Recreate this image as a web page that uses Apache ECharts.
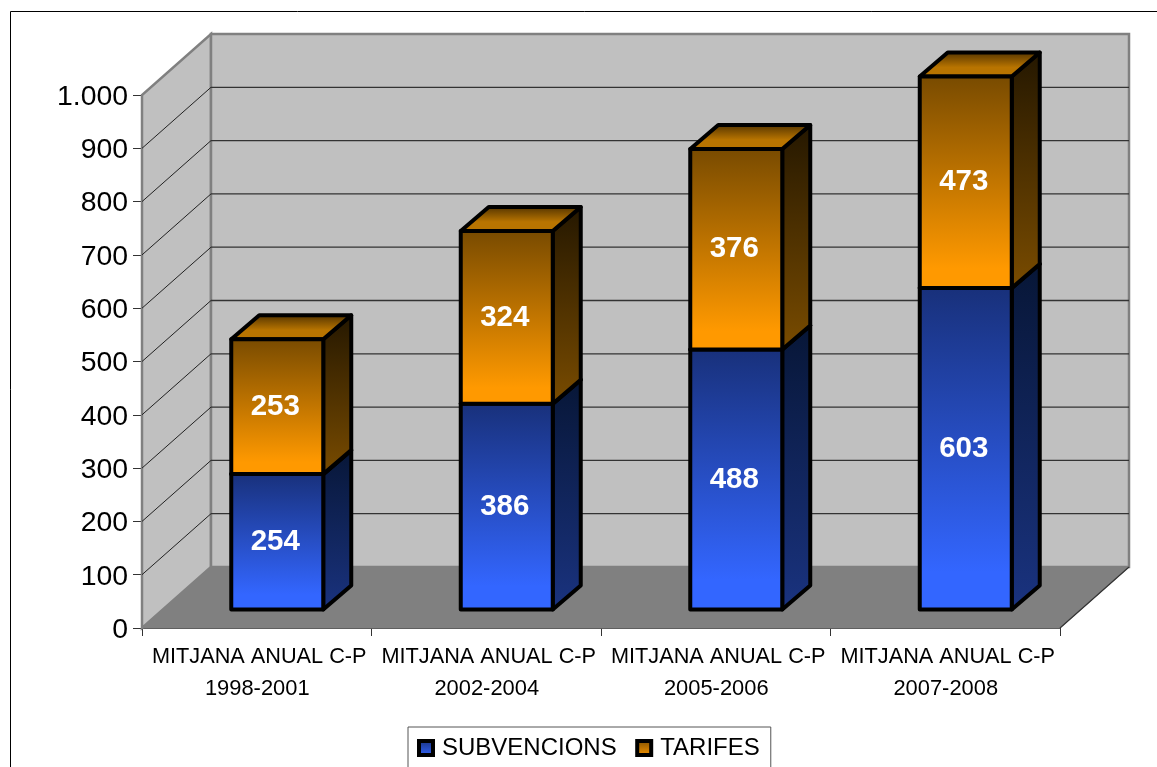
<!DOCTYPE html>
<html>
<head>
<meta charset="utf-8">
<style>html,body{margin:0;padding:0;background:#fff;overflow:hidden}#c{width:1157px;height:767px}</style>
<script src="https://cdn.jsdelivr.net/npm/echarts@6/dist/echarts.min.js"></script>
</head>
<body>
<div id="c"></div>
<script>
var categories = ['MITJANA ANUAL C-P\n1998-2001','MITJANA ANUAL C-P\n2002-2004','MITJANA ANUAL C-P\n2005-2006','MITJANA ANUAL C-P\n2007-2008'];
var subvencions = [254,386,488,603];
var tarifes = [253,324,376,473];
var yMax = 1000;
var yStep = 100;

var WALL_DX = 69, WALL_DY = 61;      // depth of the 3D box
var BAR_SHIFT_X = 20.5, BAR_SHIFT_Y = 18.5; // bars stand inside the floor
var BAR_DX = 28, BAR_DY = 24, BAR_W = 92;

function grad(a,b,solid){return {type:'linear',x:0,y:0,x2:0,y2:1,colorStops:[{offset:0,color:a},{offset:solid||1,color:b},{offset:1,color:b}]};}
var BLUE = {front:grad('#18307a','#3366ff',0.88), side:grad('#071636','#1a3380'), top:grad('#0f2050','#25479f')};
var ORANGE = {front:grad('#774a00','#ff9900',0.9), side:grad('#241700','#7a4c00'), top:grad('#4a2e00','#b87400',0.6)};

function renderBox(){
  return function(params, api){
    var cs = params.coordSys, L = cs.x, R = cs.x+cs.width;
    var y0 = api.coord([0,0])[1], yT = api.coord([0,yMax])[1];
    var wall = {fill:'#c0c0c0', stroke:'#808080', lineWidth:2.5};
    var kids = [
      {type:'polygon',shape:{points:[[L,y0],[L+WALL_DX,y0-WALL_DY],[L+WALL_DX,yT-WALL_DY],[L,yT]]},style:wall},
      {type:'polygon',shape:{points:[[L+WALL_DX,y0-WALL_DY],[R+WALL_DX,y0-WALL_DY],[R+WALL_DX,yT-WALL_DY],[L+WALL_DX,yT-WALL_DY]]},style:wall},
      {type:'polygon',shape:{points:[[L,y0],[R,y0],[R+WALL_DX,y0-WALL_DY],[L+WALL_DX,y0-WALL_DY]]},style:{fill:'#808080',stroke:'#808080',lineWidth:1}},
      {type:'line',shape:{x1:R,y1:y0,x2:R+WALL_DX,y2:y0-WALL_DY},style:{stroke:'#333',lineWidth:1.2}}
    ];
    for(var v=yStep;v<yMax;v+=yStep){
      var y = api.coord([0,v])[1];
      kids.push({type:'line',shape:{x1:L,y1:y,x2:L+WALL_DX,y2:y-WALL_DY},style:{stroke:'#222',lineWidth:1}});
      kids.push({type:'line',shape:{x1:L+WALL_DX,y1:y-WALL_DY,x2:R+WALL_DX,y2:y-WALL_DY},style:{stroke:'#333',lineWidth:1.3}});
    }
    return {type:'group',children:kids};
  };
}

function renderBar(values, bases, pal){
  return function(params, api){
    var i = api.value(0);
    var b = bases[i], t = b+values[i];
    var cx = api.coord([i,0])[0]+BAR_SHIFT_X;
    var yb = api.coord([i,Math.min(b,yMax)])[1]-BAR_SHIFT_Y;
    var yt = api.coord([i,Math.min(t,yMax)])[1]-BAR_SHIFT_Y;
    var x0 = cx-BAR_W/2, x1 = cx+BAR_W/2;
    function st(f){return {fill:f,stroke:'#000',lineWidth:4,lineJoin:'round'};}
    return {type:'group',children:[
      {type:'polygon',shape:{points:[[x1,yb],[x1+BAR_DX,yb-BAR_DY],[x1+BAR_DX,yt-BAR_DY],[x1,yt]]},style:st(pal.side)},
      {type:'polygon',shape:{points:[[x0,yt],[x1,yt],[x1+BAR_DX,yt-BAR_DY],[x0+BAR_DX,yt-BAR_DY]]},style:st(pal.top)},
      {type:'polygon',shape:{points:[[x0,yb],[x1,yb],[x1,yt],[x0,yt]]},style:st(pal.front)},
      {type:'text',style:{x:cx-2,y:(yb+yt)/2,text:String(values[i]),fill:'#fff',align:'center',verticalAlign:'middle',
        font:'bold 29.5px "Liberation Sans", Arial, sans-serif'}}
    ]};
  };
}

var zeros = subvencions.map(function(){return 0;});
var chart = echarts.init(document.getElementById('c'),null,{renderer:'canvas'});
chart.setOption({
  animation:false,
  backgroundColor:'#fff',
  textStyle:{fontFamily:'"Liberation Sans", Arial, sans-serif'},
  graphic:[{type:'rect',silent:true,z:-10,shape:{x:10.5,y:11.5,width:1300,height:900},style:{fill:'none',stroke:'#000',lineWidth:1}}],
  grid:{left:142,right:97,top:95,bottom:139,containLabel:false},
  legend:{
    data:[{name:'SUBVENCIONS',icon:'rect'},{name:'TARIFES',icon:'rect'}],left:408,top:727,padding:[9,11,9,9],
    itemWidth:14,itemHeight:14,itemGap:18.5,
    borderColor:'#555',borderWidth:1,backgroundColor:'#fff',
    itemStyle:{borderColor:'#000',borderWidth:4},
    textStyle:{fontSize:24,color:'#000',padding:[0,0,0,4]},
    selectedMode:false
  },
  xAxis:{type:'category',data:categories,boundaryGap:true,
    axisLine:{show:true,lineStyle:{color:'#000',width:1.5}},
    axisTick:{show:true,alignWithLabel:false,length:8,lineStyle:{color:'#333',width:1}},
    axisLabel:{color:'#000',margin:14,interval:0,
      formatter:function(v){var p=v.split('\n');return '{a|'+p[0]+'}\n{b|'+p[1]+'}';},
      rich:{a:{fontSize:21.7,lineHeight:31,color:'#000',padding:[0,0,0,5]},b:{fontSize:21.9,lineHeight:31,color:'#000',padding:[0,0,0,1]}}
    }
  },
  yAxis:{type:'value',min:0,max:yMax,interval:yStep,splitLine:{show:false},
    axisLine:{show:true,lineStyle:{color:'#333',width:1.5}},
    axisTick:{show:true,length:9,lineStyle:{color:'#333',width:1}},
    axisLabel:{color:'#000',fontSize:28.4,margin:14,verticalAlign:'top',lineHeight:4,
      formatter:function(v){return v>=1000?String(v).replace(/(\d)(\d{3})$/,'$1.$2'):String(v);}}
  },
  series:[
    {type:'custom',name:'box',z:1,silent:true,clip:false,coordinateSystem:'cartesian2d',renderItem:renderBox(),data:[[0,0]],encode:{x:0,y:1}},
    {type:'custom',name:'SUBVENCIONS',z:2,silent:true,clip:false,coordinateSystem:'cartesian2d',renderItem:renderBar(subvencions,zeros,BLUE),
      itemStyle:{color:grad('#18307a','#3366ff'),borderColor:'#000',borderWidth:4},
      data:subvencions.map(function(v,i){return [i,v];}),encode:{x:0,y:1}},
    {type:'custom',name:'TARIFES',z:3,silent:true,clip:false,coordinateSystem:'cartesian2d',renderItem:renderBar(tarifes,subvencions,ORANGE),
      itemStyle:{color:grad('#7a4c00','#ff9900'),borderColor:'#000',borderWidth:4},
      data:tarifes.map(function(v,i){return [i,v];}),encode:{x:0,y:1}}
  ]
});
</script>
</body>
</html>
